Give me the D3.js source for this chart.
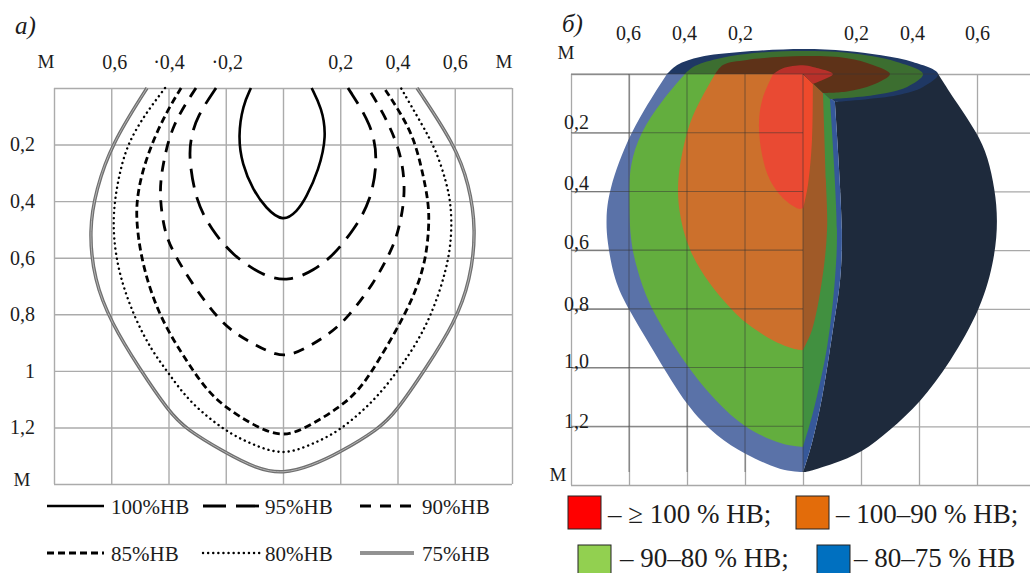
<!DOCTYPE html>
<html>
<head>
<meta charset="utf-8">
<script src="https://cdn.jsdelivr.net/npm/d3@7"></script>
<style>
  html, body { margin: 0; background: #fff; overflow: hidden; }
  text { font-family: "Liberation Serif", serif; fill: #1c1c1c; }
</style>
</head>
<body>
<div id="chart"></div>
<script>
// ---- data (metres from centre, metres down) ----
const gridX = [-0.8, -0.6, -0.4, -0.2, 0, 0.2, 0.4, 0.6, 0.8]
const gridY = [0, 0.2, 0.4, 0.6, 0.8, 1, 1.2, 1.4]
const xTicks = [-0.6, -0.4, -0.2, 0.2, 0.4, 0.6]
const xTickLabelsA = ["0,6", "·0,4", "·0,2", "0,2", "0,4", "0,6"]
const xTickLabelsB = ["0,6", "0,4", "0,2", "0,2", "0,4", "0,6"]
const yTicksA = [0.2, 0.4, 0.6, 0.8, 1, 1.2]
const yTickLabelsA = ["0,2", "0,4", "0,6", "0,8", "1", "1,2"]
const yTickLabelsB = ["0,2", "0,4", "0,6", "0,8", "1,0", "1,2"]

const curve100 = [[-.112,0],[-.14,.06],[-.157,.17],[-.143,.27],[-.105,.36],[-.06,.425],[0,.475],[.05,.435],[.08,.39],[.125,.29],[.153,.17],[.135,.07],[.1,0]]
const curve95 = [[-.234,0],[-.3,.1],[-.32,.17],[-.33,.24],[-.305,.4],[-.25,.5],[-.178,.59],[-.07,.665],[.02,.685],[.108,.645],[.178,.59],[.248,.5],[.307,.4],[.332,.25],[.31,.13],[.227,0]]
const curve90 = [[-.304,0],[-.388,.13],[-.42,.27],[-.433,.37],[-.416,.5],[-.39,.57],[-.32,.69],[-.224,.82],[-.164,.87],[-.094,.91],[-.024,.945],[.03,.945],[.098,.91],[.16,.87],[.22,.82],[.318,.69],[.381,.57],[.405,.5],[.43,.37],[.412,.22],[.346,.08],[.297,0]]
const curve85 = [[-.356,0],[-.41,.09],[-.46,.2],[-.496,.31],[-.513,.41],[-.51,.5],[-.49,.63],[-.433,.81],[-.328,.98],[-.265,1.07],[-.2,1.13],[-.108,1.19],[0,1.24],[.1,1.19],[.196,1.13],[.265,1.07],[.325,.98],[.44,.78],[.496,.63],[.51,.5],[.51,.41],[.486,.29],[.458,.18],[.412,.09],[.353,0]]
const curve80 = [[-.412,0],[-.48,.09],[-.545,.2],[-.573,.31],[-.59,.41],[-.594,.52],[-.573,.66],[-.52,.81],[-.458,.93],[-.398,1.01],[-.328,1.11],[-.2,1.215],[-.108,1.26],[0,1.3],[.1,1.26],[.196,1.215],[.325,1.1],[.4,1],[.45,.93],[.517,.81],[.573,.64],[.59,.52],[.587,.41],[.57,.33],[.535,.22],[.486,.13],[.412,0]]
const curve75 = [[-.475,0],[-.6,.2],[-.653,.36],[-.678,.5],[-.66,.68],[-.6,.83],[-.503,.99],[-.398,1.145],[-.34,1.205],[-.2,1.29],[-.094,1.345],[0,1.365],[.1,1.335],[.196,1.29],[.335,1.205],[.395,1.145],[.5,.99],[.6,.83],[.655,.68],[.675,.5],[.65,.34],[.6,.2],[.468,0]]
const curveLabels = ["100%HB", "95%HB", "90%HB", "85%HB", "80%HB", "75%HB"]

// cut face, left half of each zone
const blueLeft = [[-.469,0],[-.6,.2],[-.672,.402],[-.679,.497],[-.676,.565],[-.652,.702],[-.603,.8],[-.503,.964],[-.4,1.134],[-.297,1.236],[-.2,1.295],[-.103,1.339],[-.055,1.352],[0,1.356]]
const greenLeft = [[-.407,0],[-.486,.089],[-.562,.2],[-.597,.31],[-.6,.402],[-.597,.565],[-.572,.668],[-.528,.8],[-.4,.998],[-.297,1.12],[-.2,1.206],[-.103,1.25],[-.045,1.267],[0,1.27]]
const orangeLeft = [[-.303,0],[-.355,.089],[-.397,.174],[-.434,.344],[-.431,.463],[-.397,.6],[-.321,.719],[-.245,.804],[-.2,.848],[-.097,.916],[-.01,.943],[0,.94]]
const redLeft = [[-.103,0],[-.141,.089],[-.152,.174],[-.141,.276],[-.114,.361],[-.062,.429],[-.01,.46],[0,.456]]
// cut face, slivers right of the axis
const blueRight = [[.11,.095],[.134,.53],[.128,.7],[.103,.872],[.066,1.1],[.03,1.26],[0,1.356]]
const greenRight = [[.093,.085],[.117,.53],[.11,.7],[.083,.93],[.034,1.155],[0,1.27]]
const orangeRight = [[.069,.065],[.079,.361],[.083,.53],[.066,.7],[.031,.872],[0,.94]]
const redRight = [[.034,.034],[.031,.225],[.017,.378],[0,.46]]
// dark outer surface
const bodyOuter = [[.466,0],[.531,.1],[.6,.2],[.638,.282],[.662,.395],[.672,.497],[.662,.624],[.617,.794],[.507,.984],[.403,1.121],[.3,1.213],[.203,1.291],[.103,1.328],[.014,1.356],[0,1.356]]
const bodyInner = [[0,1.356],[.03,1.26],[.066,1.1],[.103,.872],[.128,.7],[.134,.53],[.11,.095]]
// top cap rings
const capBlue = [[-.469,0],[-.434,-.031],[-.355,-.058],[-.217,-.075],[0,-.085],[.152,-.078],[.379,-.041],[.466,0],[.414,.044],[.324,.072],[.11,.095]]
const capGreen = [[-.407,0],[-.379,-.024],[-.297,-.051],[-.159,-.072],[0,-.078],[.152,-.072],[.324,-.041],[.414,0],[.359,.044],[.241,.072],[.093,.085]]
const capBrown = [[-.303,0],[-.276,-.031],[-.193,-.048],[0,-.061],[.152,-.054],[.241,-.031],[.3,0],[.241,.037],[.152,.06],[.069,.065]]
const capRed = [[-.103,0],[-.069,-.02],[0,-.03],[.034,-.024],[.103,0],[.069,.02],[.034,.034]]

const legendLabelsB = ["– ≥ 100 % HB;", "– 100–90 % HB;", "– 90–80 % HB;", "– 80–75 % HB"]
const legendColorsB = ["#ff0000", "#e36c0a", "#92d050", "#0070c0"]

const svg = d3.select("#chart").append("svg")
    .attr("width", 1030)
    .attr("height", 573)

// ---- panel a ----
const xA = d3.scaleLinear().domain([-0.8, 0.8]).range([54, 512])
const yA = d3.scaleLinear().domain([0, 1.4]).range([88, 484])

const a = svg.append("g")

a.append("g")
    .attr("transform", "translate(0,484)")
    .call(d3.axisBottom(xA).tickValues(gridX).tickSize(-396).tickFormat(""))
    .call(g => g.select(".domain").remove())
    .selectAll("line").attr("stroke", "#ababab").attr("stroke-width", 1.4)
a.append("g")
    .attr("transform", "translate(54,0)")
    .call(d3.axisLeft(yA).tickValues(gridY).tickSize(-458).tickFormat(""))
    .call(g => g.select(".domain").remove())
    .selectAll("line").attr("stroke", "#ababab").attr("stroke-width", 1.4)

const lineA = d3.line().x(d => xA(d[0])).y(d => yA(d[1])).curve(d3.curveBasis)

// one style per curve, same order as curveLabels
const curveStyles = [
    { w: 2.6, dash: null, cap: "butt" },
    { w: 2.8, dash: "19 10", cap: "butt" },
    { w: 2.8, dash: "11 9", cap: "butt" },
    { w: 2.8, dash: "7 4", cap: "butt" },
    { w: 2.4, dash: "0.1 5", cap: "round" },
    { w: 3.4, dash: null, cap: "butt", double: true }
]
const curves = [curve100, curve95, curve90, curve85, curve80, curve75]

curves.forEach((c, i) => {
    const s = curveStyles[i]
    a.append("path")
        .attr("d", lineA(c))
        .attr("fill", "none")
        .attr("stroke", s.double ? "#6f6f6f" : "#000")
        .attr("stroke-width", s.w)
        .attr("stroke-dasharray", s.dash)
        .attr("stroke-linecap", s.cap)
    if (s.double) {
        a.append("path")
            .attr("d", lineA(c))
            .attr("fill", "none")
            .attr("stroke", "#b5b5b5")
            .attr("stroke-width", 1)
    }
})

// axis labels sit above the grid
const nudgeA = [3, 0, 1, 0, 0, 0]
const topA = a.append("g")
    .attr("transform", "translate(0,69)")
    .call(d3.axisTop(xA).tickValues(xTicks).tickSize(0).tickPadding(0)
        .tickFormat((d, i) => xTickLabelsA[i]))
topA.select(".domain").remove()
topA.selectAll("text").style("font-size", "20px").attr("y", 0).attr("dx", (d, i) => nudgeA[i])

const leftA = a.append("g")
    .attr("transform", "translate(35,0)")
    .call(d3.axisLeft(yA).tickValues(yTicksA).tickSize(0).tickPadding(0)
        .tickFormat((d, i) => yTickLabelsA[i]))
leftA.select(".domain").remove()
leftA.selectAll("text").style("font-size", "20px")

a.append("text").attr("x", 46).attr("y", 68).attr("text-anchor", "middle").style("font-size", "19px").text("М")
a.append("text").attr("x", 504).attr("y", 68).attr("text-anchor", "middle").style("font-size", "19px").text("М")
a.append("text").attr("x", 22).attr("y", 486).attr("text-anchor", "middle").style("font-size", "19px").text("М")
a.append("text").attr("x", 15).attr("y", 34).style("font-size", "25px").style("font-style", "italic").text("а)")

// legend of panel a
const legendX = [[47, 104, 111], [203, 260, 265], [360, 414, 422]]
const legendY = [[506, 514], [553, 561]]
curveLabels.forEach((label, i) => {
    const col = legendX[i % 3], row = legendY[Math.floor(i / 3)], s = curveStyles[i]
    a.append("line")
        .attr("x1", col[0]).attr("x2", col[1]).attr("y1", row[0]).attr("y2", row[0])
        .attr("stroke", s.double ? "#6f6f6f" : "#000")
        .attr("stroke-width", s.w)
        .attr("stroke-dasharray", i == 1 ? "23 10" : s.dash)
        .attr("stroke-linecap", s.cap)
    if (s.double) {
        a.append("line")
            .attr("x1", col[0]).attr("x2", col[1]).attr("y1", row[0]).attr("y2", row[0])
            .attr("stroke", "#b5b5b5").attr("stroke-width", 1)
    }
    a.append("text").attr("x", col[2]).attr("y", row[1]).style("font-size", "21px").text(label)
})

// ---- panel b ----
const xB = d3.scaleLinear().domain([-0.8, 0.8]).range([571, 1035])
const yB = d3.scaleLinear().domain([0, 1.4]).range([74, 485])

const b = svg.append("g")

b.append("g")
    .attr("transform", "translate(0,485)")
    .call(d3.axisBottom(xB).tickValues(gridX).tickSize(-411).tickFormat(""))
    .call(g => g.select(".domain").remove())
    .selectAll("line").attr("stroke", "#a8a8a8").attr("stroke-width", 1.3)
b.append("g")
    .attr("transform", "translate(571,0)")
    .call(d3.axisLeft(yB).tickValues(gridY).tickSize(-464).tickFormat(""))
    .call(g => g.select(".domain").remove())
    .selectAll("line").attr("stroke", "#a8a8a8").attr("stroke-width", 1.3)

// rough outlines go through basis, the caps and slivers keep every point
const lineB = d3.line().x(d => xB(d[0])).y(d => yB(d[1])).curve(d3.curveCatmullRom)
const lineSmooth = d3.line().x(d => xB(d[0])).y(d => yB(d[1])).curve(d3.curveBasis)
const toCentre = `L${xB(0)},${yB(0)}Z`

const zone = (pts, color, gen = lineB) => b.append("path").attr("d", gen(pts) + toCentre).attr("fill", color)

b.append("path")
    .attr("d", lineSmooth(bodyOuter) + lineB(bodyInner).replace("M", "L") + "Z")
    .attr("fill", "#1e2a3c")

zone(blueRight, "#36589a")
zone(greenRight, "#419040")
zone(orangeRight, "#a05a28")
zone(redRight, "#ee4a2c")
zone(blueLeft, "#5a72a8", lineSmooth)
zone(greenLeft, "#63ae3e", lineSmooth)
zone(orangeLeft, "#cc702c", lineSmooth)
zone(redLeft, "#e94a33")
zone(capBlue, "#1f3864")
zone(capGreen, "#3c6e30")
zone(capBrown, "#5e3218")
zone(capRed, "#b8302a")

// grid shows through the cut face
const gridOver = b.append("g").attr("stroke", "#333").attr("stroke-opacity", 0.5).attr("stroke-width", 1.1)
gridX.filter(d => d > -0.8 && d <= 0).forEach(d => {
    gridOver.append("line").attr("x1", xB(d)).attr("x2", xB(d)).attr("y1", yB(0)).attr("y2", yB(1.356))
})
gridY.filter(d => d < 1.4).forEach(d => {
    gridOver.append("line").attr("x1", xB(-0.8)).attr("x2", d == 0 ? xB(0.466) : xB(0)).attr("y1", yB(d)).attr("y2", yB(d))
})

// labels on this panel drift off their grid lines
const nudgeB = [-1, -3, -5, -5, -7, 0]
const nudgeLeftB = [-2, 1, 1, 4, 3, 4]
const topB = b.append("g")
    .attr("transform", "translate(0,40)")
    .call(d3.axisTop(xB).tickValues(xTicks).tickSize(0).tickPadding(0)
        .tickFormat((d, i) => xTickLabelsB[i]))
topB.select(".domain").remove()
topB.selectAll("text").style("font-size", "20px").attr("y", 0).attr("dx", (d, i) => nudgeB[i])

const leftB = b.append("g")
    .attr("transform", "translate(589,-9)")
    .call(d3.axisLeft(yB).tickValues(yTicksA).tickSize(0).tickPadding(0)
        .tickFormat((d, i) => yTickLabelsB[i]))
leftB.select(".domain").remove()
leftB.selectAll("text").style("font-size", "20px").attr("y", (d, i) => nudgeLeftB[i])

b.append("text").attr("x", 566).attr("y", 59).attr("text-anchor", "middle").style("font-size", "19px").text("М")
b.append("text").attr("x", 558).attr("y", 481).attr("text-anchor", "middle").style("font-size", "19px").text("М")
b.append("text").attr("x", 562).attr("y", 32).style("font-size", "25px").style("font-style", "italic").text("б)")

// legend of panel b
const swatchB = [[568, 496, 608, 523], [796, 496, 836, 523], [578, 545, 620, 567], [817, 545, 854, 567]]
legendLabelsB.forEach((label, i) => {
    const p = swatchB[i]
    b.append("rect")
        .attr("x", p[0]).attr("y", p[1]).attr("width", 33).attr("height", 33)
        .attr("fill", legendColorsB[i]).attr("stroke", "#222").attr("stroke-width", 1)
    b.append("text").attr("x", p[2]).attr("y", p[3]).style("font-size", "27px").text(label)
})
</script>
</body>
</html>
